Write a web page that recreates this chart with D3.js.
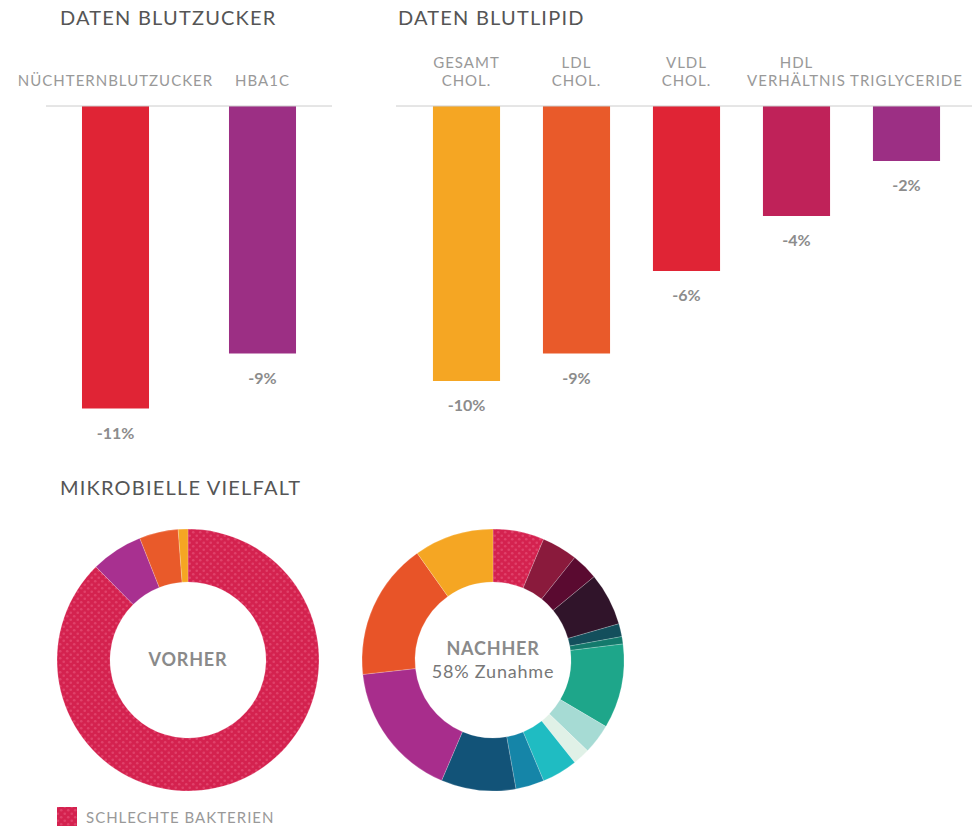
<!DOCTYPE html>
<html>
<head>
<meta charset="utf-8">
<script src="https://cdn.jsdelivr.net/npm/d3@7"></script>
<style>
  body { margin: 0; background: #fff; }
  text { font-family: Lato, "Open Sans", sans-serif; }
</style>
</head>
<body>
<div id="chart"></div>
<script>
// blood sugar bars
const sugarLabels = [["NÜCHTERNBLUTZUCKER"], ["HBA1C"]];
const sugarValues = [-11, -9];
const sugarColors = ["#e02435", "#9c2f84"];

// blood lipid bars
const lipidLabels = [["GESAMT", "CHOL."], ["LDL", "CHOL."], ["VLDL", "CHOL."], ["HDL", "VERHÄLTNIS"], ["TRIGLYCERIDE"]];
const lipidValues = [-10, -9, -6, -4, -2];
const lipidColors = ["#f5a623", "#e95a2a", "#e02435", "#bf2259", "#9c2f84"];

// microbial diversity donuts (share in %)
const beforeValues = [87.6, 6.4, 4.8, 1.2];
const beforeColors = ["url(#dots)", "#a83090", "#e95a2a", "#f5a623"];
const afterValues = [6.3, 4.4, 3.3, 6.5, 1.6, 0.9, 10.4, 3.7, 2.1, 4.4, 3.5, 9.2, 16.8, 16.9, 9.8];
const afterColors = ["url(#dots)", "#8a1a3c", "#5a0a30", "#30142a", "#134f5c", "#137a6c", "#1ea68a",
  "#a6dbd4", "#e0f1e7", "#1fbcc2", "#1585a8", "#125378", "#a82d8c", "#e85428", "#f5a623"];

const SIZE = { width: 972, height: 826 };
const PX_PER_UNIT = 27.5;

const svg = d3.select("div#chart").append("svg")
    .attr("width", SIZE.width)
    .attr("height", SIZE.height);

const defs = svg.append("defs");
const pat = defs.append("pattern")
    .attr("id", "dots")
    .attr("patternUnits", "userSpaceOnUse")
    .attr("width", 7).attr("height", 7);
pat.append("rect").attr("width", 7).attr("height", 7).attr("fill", "#d4224f");
pat.append("circle").attr("cx", 1.75).attr("cy", 1.75).attr("r", 1.3).attr("fill", "#e0416a");
pat.append("circle").attr("cx", 5.25).attr("cy", 5.25).attr("r", 1.3).attr("fill", "#e0416a");

function title(x, y, txt) {
  svg.append("text").attr("x", x).attr("y", y)
      .attr("font-size", 20).attr("fill", "#555")
      .attr("letter-spacing", 1.2)
      .text(txt);
}

function barChart(labels, values, colors, range, line, padding) {
  const baseY = 106;
  const x = d3.scaleBand().domain(labels.map((d, i) => i)).range(range)
      .paddingInner(padding).paddingOuter(padding / 2);
  const y = d3.scaleLinear().domain([0, -12]).range([baseY, baseY + 12 * PX_PER_UNIT]);
  const g = svg.append("g");

  g.selectAll("rect").data(values).join("rect")
      .attr("x", (d, i) => x(i))
      .attr("y", y(0))
      .attr("width", x.bandwidth())
      .attr("height", d => y(d) - y(0))
      .attr("fill", (d, i) => colors[i]);

  g.append("line")
      .attr("x1", line[0]).attr("x2", line[1])
      .attr("y1", baseY).attr("y2", baseY)
      .attr("stroke", "#ccc").attr("stroke-width", 1);

  labels.forEach((lines, i) => {
    lines.forEach((t, k) => {
      g.append("text")
          .attr("x", x(i) + x.bandwidth() / 2)
          .attr("y", 86 - (lines.length - 1 - k) * 18)
          .attr("text-anchor", "middle")
          .attr("font-size", 15).attr("letter-spacing", 1).attr("fill", "#999")
          .text(t);
    });
  });

  g.selectAll("text.val").data(values).join("text")
      .attr("class", "val")
      .attr("x", (d, i) => x(i) + x.bandwidth() / 2)
      .attr("y", d => y(d) + 30)
      .attr("text-anchor", "middle")
      .attr("font-size", 16).attr("font-weight", "bold").attr("fill", "#8c8c8c")
      .text(d => d + "%");
}

title(60, 25, "DATEN BLUTZUCKER");
title(398, 25, "DATEN BLUTLIPID");
barChart(sugarLabels, sugarValues, sugarColors, [42, 336], [46, 332], 0.544);
barChart(lipidLabels, lipidValues, lipidColors, [411.5, 961.5], [396, 972], 0.39);

title(60, 495, "MIKROBIELLE VIELFALT");

function donut(cx, cy, values, colors, lines) {
  const pie = d3.pie().sort(null);
  const arc = d3.arc().innerRadius(78).outerRadius(131);
  const g = svg.append("g").attr("transform", `translate(${cx},${cy})`);
  g.selectAll("path").data(pie(values)).join("path")
      .attr("d", arc)
      .attr("fill", (d, i) => colors[i])
      .attr("stroke", "#fff").attr("stroke-width", 0.4).attr("stroke-opacity", 0.5);
  lines.forEach(l => {
    g.append("text")
        .attr("x", 0)
        .attr("y", l.dy)
        .attr("text-anchor", "middle")
        .attr("font-size", 18)
        .attr("letter-spacing", 0.8)
        .attr("font-weight", l.bold ? "bold" : "normal")
        .attr("fill", l.bold ? "#8a8a8a" : "#777")
        .text(l.text);
  });
}

donut(188, 660, beforeValues, beforeColors, [{ text: "VORHER", dy: 6, bold: true }]);
donut(493, 660, afterValues, afterColors, [
  { text: "NACHHER", dy: -5, bold: true },
  { text: "58% Zunahme", dy: 18, bold: false }
]);

// legend
svg.append("rect").attr("x", 57).attr("y", 807).attr("width", 20).attr("height", 20).attr("fill", "url(#dots)");
svg.append("text").attr("x", 86).attr("y", 823)
    .attr("font-size", 15).attr("letter-spacing", 1).attr("fill", "#999")
    .text("SCHLECHTE BAKTERIEN");
</script>
</body>
</html>
